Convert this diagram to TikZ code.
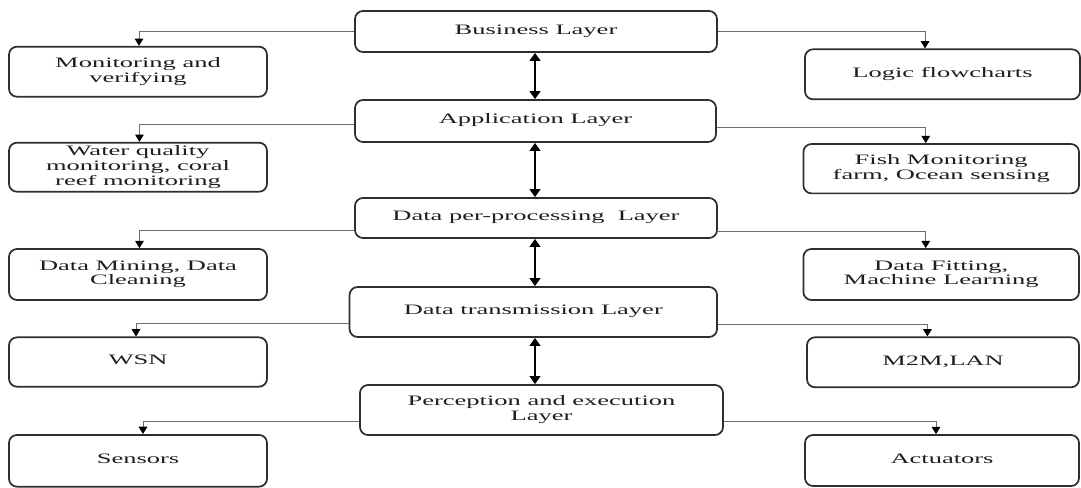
\documentclass[tikz,border=0pt]{standalone}
\usepackage{fontspec}
\setmainfont{Liberation Serif}
\usepackage{graphicx}
\usetikzlibrary{arrows.meta}
\definecolor{boxc}{HTML}{2E2E2E}
\definecolor{txtc}{HTML}{1E1E1E}
\definecolor{linec}{HTML}{6E6E6E}
\newcommand{\wt}[1]{\scalebox{1.84}[1]{\fontsize{10.8}{11.2}\selectfont\begin{tabular}{@{}c@{}}#1\end{tabular}}}
\begin{document}
\begin{tikzpicture}[x=0.75pt,y=-0.75pt,
  boxnode/.style={draw=boxc, line width=1.3pt, rounded corners=6pt, inner sep=0pt, text=txtc},
  conn/.style={draw=linec, line width=0.75pt, -{Triangle[width=6.5pt,length=5.5pt,fill=black,color=black]}},
  dbl/.style={draw=black, line width=1.9pt, {Triangle[width=8pt,length=6pt]}-{Triangle[width=8pt,length=6pt]}}]
\useasboundingbox (0,0) rectangle (1081,487);
% central layers
\node[boxnode, minimum width=271.5pt, minimum height=30.75pt] (bus) at (536,31.5) {\wt{Business Layer}};
\node[boxnode, minimum width=270.75pt, minimum height=31.5pt] (app) at (535.5,121) {\wt{Application Layer}};
\node[boxnode, minimum width=271.5pt, minimum height=30pt] (dpp) at (536,218) {\wt{Data per-processing\ \ Layer}};
\node[boxnode, minimum width=275.6pt, minimum height=37.5pt] (dtl) at (533.3,312) {\wt{Data transmission Layer}};
\node[boxnode, minimum width=272.25pt, minimum height=37.5pt] (pel) at (541.5,410) {\wt{Perception and execution\\Layer}};
% left boxes
\node[boxnode, minimum width=193.5pt, minimum height=37.5pt] (mon) at (138,71.7) {\wt{Monitoring and\\verifying}};
\node[boxnode, minimum width=193.5pt, minimum height=36.75pt] (wat) at (138,167.2) {\wt{Water quality\\monitoring, coral\\reef monitoring}};
\node[boxnode, minimum width=193.5pt, minimum height=38.25pt] (dmc) at (138,274.5) {\wt{Data Mining, Data\\Cleaning}};
\node[boxnode, minimum width=193.5pt, minimum height=37pt] (wsn) at (138,362) {\wt{WSN}};
\node[boxnode, minimum width=193.5pt, minimum height=38.8pt] (sen) at (138,460.8) {\wt{Sensors}};
% right boxes
\node[boxnode, minimum width=206.25pt, minimum height=37.5pt] (log) at (942.5,74.3) {\wt{Logic flowcharts}};
\node[boxnode, minimum width=206.7pt, minimum height=37pt] (fish) at (941.2,168.7) {\wt{Fish Monitoring\\farm, Ocean sensing}};
\node[boxnode, minimum width=206.7pt, minimum height=38.25pt] (dfm) at (941.2,274.5) {\wt{Data Fitting,\\Machine Learning}};
\node[boxnode, minimum width=204pt, minimum height=37.5pt] (m2m) at (943,362.3) {\wt{M2M,LAN}};
\node[boxnode, minimum width=205.5pt, minimum height=38.25pt] (act) at (942,460.5) {\wt{Actuators}};
% double arrows between layers
\coordinate (ax) at (535,0);
\draw[dbl] (bus.south -| ax) -- (app.north -| ax);
\draw[dbl] (app.south -| ax) -- (dpp.north -| ax);
\draw[dbl] (dpp.south -| ax) -- (dtl.north -| ax);
\draw[dbl] (dtl.south -| ax) -- (pel.north -| ax);
% side connectors
\draw[conn] (bus.west) -| ([xshift=0.75pt]mon.north);
\draw[conn] (bus.east) -| ([xshift=-13.1pt]log.north);
\draw[conn] ([yshift=-2.5pt]app.west) -| ([xshift=1.1pt]wat.north);
\draw[conn] ([yshift=-4.7pt]app.east) -| ([xshift=-11.6pt]fish.north);
\draw[conn] ([yshift=-9pt]dpp.west) -| ([xshift=1.1pt]dmc.north);
\draw[conn] ([yshift=-10.3pt]dpp.east) -| ([xshift=-11.6pt]dfm.north);
\draw[conn] ([yshift=-8.5pt]dtl.west) -| ([xshift=-1.5pt]wsn.north);
\draw[conn] ([yshift=-9pt]dtl.east) -| ([xshift=-11.7pt]m2m.north);
\draw[conn] ([yshift=-8.8pt]pel.west) -| ([xshift=3.75pt]sen.north);
\draw[conn] ([yshift=-8.8pt]pel.east) -| ([xshift=-4.5pt]act.north);
\end{tikzpicture}
\end{document}
